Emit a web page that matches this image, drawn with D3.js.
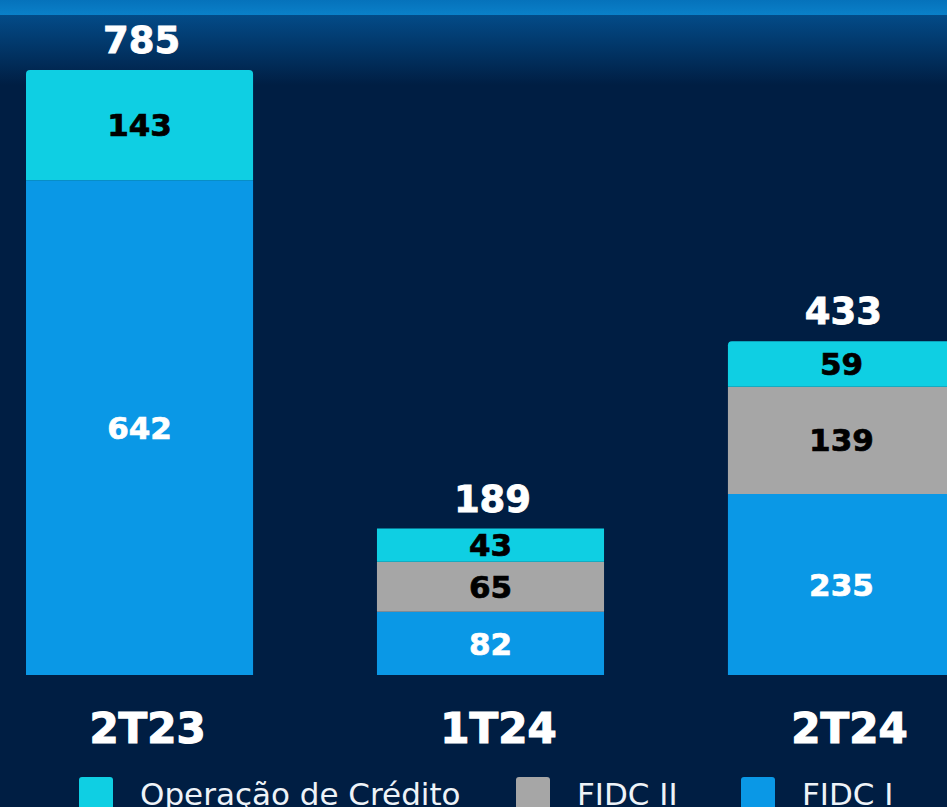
<!DOCTYPE html>
<html>
<head>
<meta charset="utf-8">
<script src="https://cdn.jsdelivr.net/npm/d3@7"></script>
<style>
  html, body { margin: 0; padding: 0; background: #001e43; }
  svg { display: block; }
</style>
</head>
<body>
<div id="chart"></div>
<script>
// Stacked bars: composition per quarter

var categories = ['2T23', '1T24', '2T24']
var fidcI = [642, 82, 235]
var fidcII = [0, 65, 139]
var operacao = [143, 43, 59]
var totals = [785, 189, 433]

var seriesNames = ['FIDC I', 'FIDC II', 'Operação de Crédito']
var seriesColors = ['#0a98e6', '#a6a6a6', '#0fcfe3']
var labelColors = ['#ffffff', '#000000', '#000000']
var legendOrder = ['Operação de Crédito', 'FIDC II', 'FIDC I']

var width = 947
var height = 807

var svg = d3.select('#chart')
  .append('svg')
  .attr('width', width)
  .attr('height', height)

// Background with bright band and fade at the top
var defs = svg.append('defs')
var grad = defs.append('linearGradient')
  .attr('id', 'topFade')
  .attr('x1', 0).attr('y1', 0).attr('x2', 0).attr('y2', 1)
grad.append('stop').attr('offset', '0%').attr('stop-color', '#034b88')
grad.append('stop').attr('offset', '100%').attr('stop-color', '#001e43')

var band = defs.append('linearGradient')
  .attr('id', 'topBand')
  .attr('x1', 0).attr('y1', 0).attr('x2', 0).attr('y2', 1)
band.append('stop').attr('offset', '0%').attr('stop-color', '#0572bb')
band.append('stop').attr('offset', '100%').attr('stop-color', '#0a80c9')

svg.append('rect').attr('width', width).attr('height', height).attr('fill', '#001e43')
svg.append('rect').attr('y', 15).attr('width', width).attr('height', 70).attr('fill', 'url(#topFade)')
svg.append('rect').attr('y', 0).attr('width', width).attr('height', 15).attr('fill', 'url(#topBand)')

// Scales
var x = d3.scaleBand()
  .domain(categories)
  .range([26, 955])
  .paddingInner(0.353)
  .paddingOuter(0)

var y = d3.scaleLinear()
  .domain([0, 785])
  .range([675, 70])

var rows = categories.map(function(c, i) {
  return { cat: c, 'FIDC I': fidcI[i], 'FIDC II': fidcII[i], 'Operação de Crédito': operacao[i], total: totals[i] }
})

var stack = d3.stack().keys(seriesNames)
var layers = stack(rows)

var font = '"DejaVu Sans", Verdana, sans-serif'

// Path for a segment; top segment gets rounded top corners
function segPath(x0, y0, w, h, rounded) {
  var r = rounded ? 4 : 0
  return 'M' + x0 + ',' + (y0 + h) +
    'V' + (y0 + r) +
    (r ? 'Q' + x0 + ',' + y0 + ' ' + (x0 + r) + ',' + y0 : '') +
    'H' + (x0 + w - r) +
    (r ? 'Q' + (x0 + w) + ',' + y0 + ' ' + (x0 + w) + ',' + (y0 + r) : '') +
    'V' + (y0 + h) + 'Z'
}

layers.forEach(function(layer, li) {
  var g = svg.append('g').attr('class', 'layer')
  layer.forEach(function(d) {
    var v = d[1] - d[0]
    if (v <= 0) return
    var isTop = d[1] === d.data.total
    var x0 = x(d.data.cat)
    var y0 = y(d[1])
    var h = y(d[0]) - y(d[1])
    g.append('path')
      .attr('d', segPath(x0, y0, x.bandwidth(), h, isTop))
      .attr('fill', seriesColors[li])

    g.append('text')
      .attr('x', x0 + x.bandwidth() / 2)
      .attr('y', y0 + h / 2)
      .attr('dy', '0.36em')
      .attr('text-anchor', 'middle')
      .attr('font-family', font)
      .attr('font-weight', 'bold')
      .attr('font-size', 31)
      .attr('fill', labelColors[li])
      .attr('stroke', labelColors[li])
      .attr('stroke-width', 0.7)
      .text(v)
  })
})

// Totals above the bars
svg.append('g').selectAll('text')
  .data(rows)
  .enter().append('text')
  .attr('x', function(d) { return x(d.cat) + x.bandwidth() / 2 + 2 })
  .attr('y', function(d) { return y(d.total) - 17 })
  .attr('text-anchor', 'middle')
  .attr('font-family', font)
  .attr('font-weight', 'bold')
  .attr('font-size', 37)
  .attr('fill', '#ffffff')
  .attr('stroke', '#ffffff')
  .attr('stroke-width', 0.8)
  .text(function(d) { return d.total })

// Category axis (no line, no ticks)
var axis = svg.append('g')
  .attr('transform', 'translate(8,743)')
  .call(d3.axisBottom(x).tickSize(0).tickPadding(0))
axis.select('.domain').remove()
axis.selectAll('text')
  .attr('dy', 0)
  .attr('y', 0)
  .attr('font-family', font)
  .attr('font-weight', 'bold')
  .attr('font-size', 42)
  .attr('fill', '#ffffff')
  .attr('stroke', '#ffffff')
  .attr('stroke-width', 1.2)

// Legend
var legendX = [79, 516, 741]
var legend = svg.append('g')
legendOrder.forEach(function(name, i) {
  var col = seriesColors[seriesNames.indexOf(name)]
  legend.append('rect')
    .attr('x', legendX[i]).attr('y', 777)
    .attr('width', 34).attr('height', 34)
    .attr('rx', 3)
    .attr('fill', col)
  legend.append('text')
    .attr('x', legendX[i] + 61)
    .attr('y', 805)
    .attr('font-family', font)
    .attr('font-size', 31)
    .attr('fill', '#eef3f8')
    .text(name)
})
</script>
</body>
</html>
